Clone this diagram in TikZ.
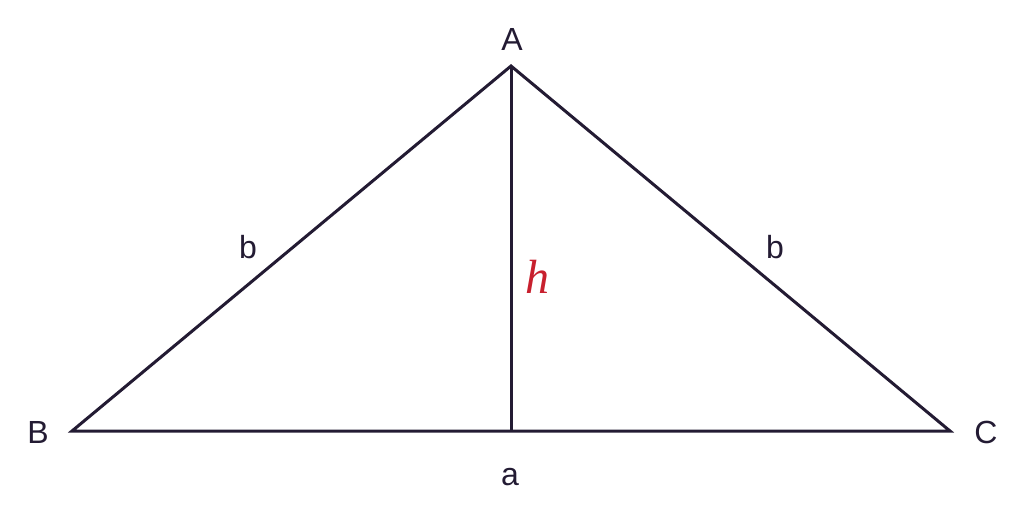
\documentclass[tikz,border=0pt]{standalone}
\usepackage{fontspec}
\setmainfont{Liberation Sans}
\newfontfamily\hfont{Liberation Serif}
\definecolor{ink}{HTML}{231B33}
\definecolor{hred}{HTML}{C8202E}
\begin{document}
\begin{tikzpicture}[x=1pt,y=-1pt,
  edge/.style={draw=ink,line width=3pt,line join=miter},
  lbl/.style={text=ink,font=\fontsize{32}{36}\selectfont,inner sep=0pt}]
\useasboundingbox (0,0) rectangle (1024,524);
\coordinate (A) at (511,66);
\coordinate (B) at (72,431);
\coordinate (C) at (950,431);
\coordinate (H) at (511,431);
\draw[edge] (B) -- (A) -- (C) -- cycle;
\draw[edge] (A) -- (H);
\node[lbl] (lA) at (512,39) {A};
\node[lbl] (lB) at (38,432) {B};
\node[lbl] (lC) at (986,432) {C};
\node[lbl] (la) at (510,477) {a};
\node[lbl] (lb1) at (248,247) {b};
\node[lbl] (lb2) at (775,247) {b};
\node[text=hred,inner sep=0pt,font=\hfont\itshape\fontsize{48}{52}\selectfont] (lh) at (537,277) {h};
\end{tikzpicture}
\end{document}
